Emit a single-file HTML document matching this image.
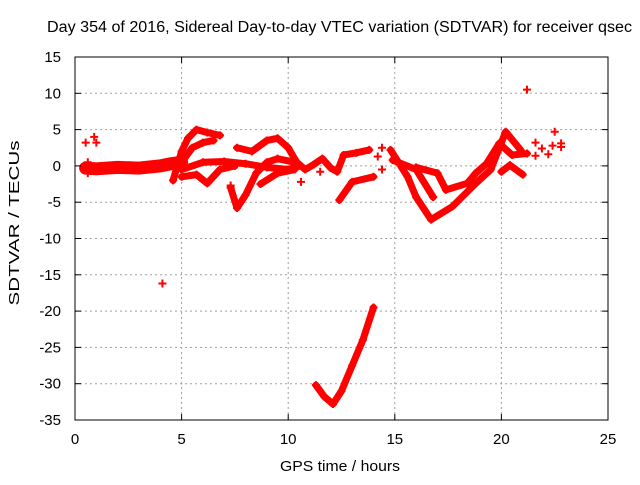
<!DOCTYPE html>
<html><head><meta charset="utf-8"><style>
body{margin:0;background:#fff;}
svg{font-family:"Liberation Sans",sans-serif;font-size:15px;}
</style></head><body>
<svg id="chart" width="640" height="480">
<text x="339.5" y="32" text-anchor="middle" font-size="15.5" textLength="585" lengthAdjust="spacingAndGlyphs">Day 354 of 2016, Sidereal Day-to-day VTEC variation (SDTVAR) for receiver qsec</text>
<g id="grid"></g>
<g id="marks"></g>
<rect x="75" y="57" width="533" height="363" fill="none" stroke="#000" stroke-width="1"/>
<g id="ticks"></g>
<text x="340" y="471" text-anchor="middle" textLength="120" lengthAdjust="spacingAndGlyphs">GPS time / hours</text>
<text transform="translate(19,223) rotate(-90)" text-anchor="middle" textLength="165" lengthAdjust="spacingAndGlyphs">SDTVAR / TECUs</text>
</svg>
<script>
const xTicks=[0,5,10,15,20,25];
const yTicks=[15,10,5,0,-5,-10,-15,-20,-25,-30,-35];
const trackFlat=[[0.5,-0.3],[1,-0.4],[2,-0.2],[3,-0.3],[4,0],[4.5,0.3],[5,0.5]];
const trackRise=[[4.6,-2],[4.8,0],[5,2],[5.3,3.8],[5.7,5],[6.2,4.6],[6.8,4.2]];
const trackRiseInner=[[5,0.5],[5.5,2.5],[6,3.2],[6.5,3.5]];
const trackMid=[[5,-0.5],[6,0.5],[7,0.6],[8,0.3],[9,-0.2],[10,-0.5],[10.5,0]];
const trackDip=[[7.3,-3],[7.6,-5.8],[8,-4],[8.5,-1],[9,0.5],[9.5,1],[10.3,0.5]];
const trackHump=[[7.6,2.5],[8.3,2],[9,3.5],[9.5,3.8],[10,2.5],[10.4,0.5]];
const trackLoop=[[5,-1.5],[5.7,-1.2],[6.2,-2.4],[6.8,-0.5],[7.5,0]];
const trackLow=[[8.7,-2.5],[9.5,-1],[10.3,-0.5]];
const trackNoon=[[10.4,0.5],[10.8,-0.5],[11.2,0.2],[11.6,1],[12,-0.3],[12.3,-0.8],[12.6,1.5],[13.2,1.8],[13.8,2.2]];
const trackNoonLow=[[12.4,-4.7],[13,-2.2],[14,-1.5]];
const trackDescent=[[14.8,2.2],[15.6,-1.5],[16,-4.3],[16.7,-7.4],[17.7,-5.6],[18.8,-2.4],[19.5,-0.5],[20.2,4.7],[20.9,2.2]];
const trackDescent2=[[14.9,0.8],[16,-0.5],[16.8,-4.3]];
const trackValley=[[16,-0.2],[17,-1],[17.4,-3.3],[18.4,-2.4],[18.8,-1],[19.3,0.3],[19.9,3.1],[20.5,1.5],[21.2,1.7]];
const trackEnd=[[20,-0.8],[20.4,0.1],[21,-1.2]];
const trackV=[[11.3,-30.2],[11.7,-31.8],[12.1,-32.8],[12.5,-31],[13,-27.5],[13.5,-24],[14,-19.5]];
const scatter=[[0.5,3.2],[0.9,4],[1,3.2],[0.6,0.5],[0.6,-1],[4.1,-16.2],[21.2,10.5],[22.5,4.7],[21.6,3.2],[21.9,2.4],[22.2,1.6],[22.4,2.8],[22.8,2.6],[22.8,3.1],[21.6,1.4],[14.4,2.5],[14.4,-0.5],[14.2,1.3],[10.6,-2.2],[11.5,-0.8],[7.3,-2.7]];
const tracks=[trackFlat,trackRise,trackRiseInner,trackMid,trackDip,trackHump,trackLoop,trackLow,trackNoon,trackNoonLow,trackDescent,trackDescent2,trackValley,trackEnd,trackV];
const NS='http://www.w3.org/2000/svg';
const X=h=>75+h/25*533;
const Y=v=>57+(15-v)/50*363;
const grid=document.getElementById('grid'),ticks=document.getElementById('ticks'),marks=document.getElementById('marks');
function mk(tag,attrs,parent){const e=document.createElementNS(NS,tag);for(const k in attrs)e.setAttribute(k,attrs[k]);parent.appendChild(e);return e;}
xTicks.forEach(t=>{
 if(t>0&&t<25){const g=mk('line',{x1:X(t),x2:X(t),y1:57,y2:420,stroke:'#a0a0a0','stroke-dasharray':'2,3'},grid);
 
 }
 mk('line',{x1:X(t),x2:X(t),y1:420,y2:414,stroke:'#000'},ticks);
 mk('line',{x1:X(t),x2:X(t),y1:57,y2:63,stroke:'#000'},ticks);
 const l=mk('text',{x:X(t),y:444,'text-anchor':'middle'},ticks);l.textContent=t;
 
 
});
yTicks.forEach(t=>{
 if(t<15&&t>-35){const g=mk('line',{x1:75,x2:608,y1:Y(t),y2:Y(t),stroke:'#a0a0a0','stroke-dasharray':'2,3'},grid);
 
 }
 mk('line',{x1:75,x2:81,y1:Y(t),y2:Y(t),stroke:'#000'},ticks);
 mk('line',{x1:608,x2:602,y1:Y(t),y2:Y(t),stroke:'#000'},ticks);
 const l=mk('text',{x:61,y:Y(t)+5,'text-anchor':'end'},ticks);l.textContent=t;
 
 
});
function cross(h,v){const x=X(h),y=Y(v);
 const p=mk('path',{d:`M${x-4},${y}H${x+4}M${x},${y-4}V${y+4}`,stroke:'#f00','stroke-width':2},marks);
 
 }
tracks.forEach((tr,i)=>{
 const pl=mk('polyline',{points:tr.map(p=>X(p[0])+','+Y(p[1])).join(' '),fill:'none',stroke:'#f00','stroke-width':(i===0?13:7),'stroke-linejoin':'round','stroke-linecap':'round'},marks);
 
 
 tr.forEach(p=>cross(p[0],p[1]));
});
scatter.forEach(p=>cross(p[0],p[1]));
</script>
</body></html>
